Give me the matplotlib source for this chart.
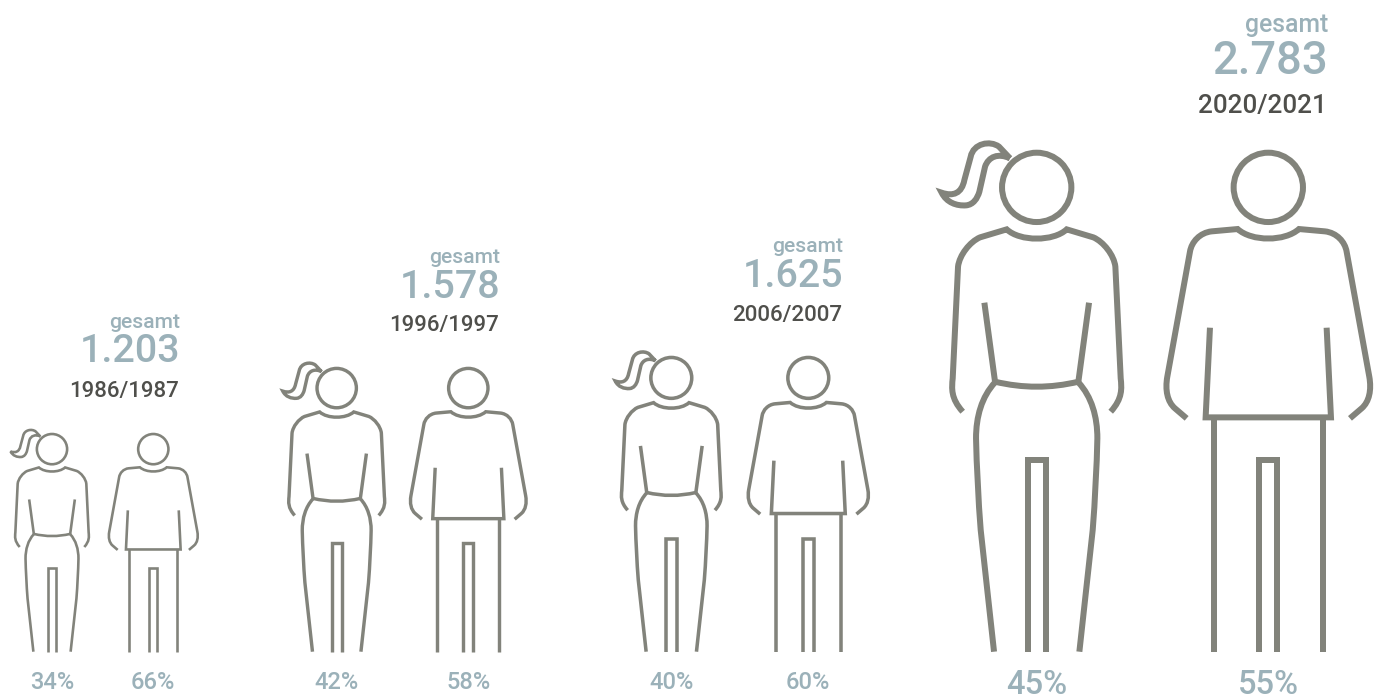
import matplotlib
matplotlib.use('Agg')
import matplotlib.pyplot as plt
from matplotlib.path import Path
from matplotlib.patches import PathPatch, Circle

years = ['1986/1987', '1996/1997', '2006/2007', '2020/2021']
totals = [1203, 1578, 1625, 2783]
total_labels = ['1.203', '1.578', '1.625', '2.783']
women = [34, 42, 40, 45]
men = [66, 58, 60, 55]
# height of the figures in pixels (follows totals)
figure_h = [219, 285, 296, 502]

# layout in pixels of the 1381x697 picture
female_x = [52, 336.7, 671.3, 1036.7]
male_x = [153.3, 468.3, 808.3, 1268.3]
text_right = [180, 500, 843, 1328]
gesamt_y = [328, 263, 252, 32]
number_y = [362.5, 298, 287, 74]
year_y = [396.5, 331.5, 320.5, 112.5]
small = [True, True, True, False]

grey = '#82837b'
blue = '#9bb1b9'
dark = '#4f4f4b'
base = 651.7

M, L, C3, C4 = Path.MOVETO, Path.LINETO, Path.CURVE3, Path.CURVE4

# icon outlines, drawn at 3x the largest figure, x from the figure axis, y from the top
def seg(*parts):
    verts, codes = [], []
    for code, pts in parts:
        for p in pts:
            verts.append(p)
            codes.append(code)
    return verts, codes

woman_paths = [
    seg((M, [(-222, 845)]), (C4, [(-258, 805), (-255, 775), (-252, 745)]), (L, [(-236, 410)]),
        (C4, [(-232, 375), (-200, 335), (-170, 322)]), (L, [(-90, 298)]),
        (C4, [(-50, 335), (50, 335), (90, 298)]), (L, [(170, 322)]),
        (C4, [(200, 335), (232, 375), (236, 410)]), (L, [(252, 745)]),
        (C4, [(255, 775), (258, 805), (222, 845)])),
    seg((M, [(-157, 518)]), (L, [(-125, 755)]), (C3, [(0, 785), (125, 755)]), (L, [(157, 518)])),
    seg((M, [(-125, 757)]), (C4, [(-165, 800), (-182, 860), (-182, 925)]),
        (C4, [(-180, 1010), (-175, 1110), (-168, 1200)]), (L, [(-128, 1565)])),
    seg((M, [(125, 757)]), (C4, [(165, 800), (182, 860), (182, 925)]),
        (C4, [(180, 1010), (175, 1110), (168, 1200)]), (L, [(128, 1565)])),
    seg((M, [(-27, 1565)]), (L, [(-27, 991), (27, 991), (27, 1565)])),
    # ponytail
    seg((M, [(-80, 85)]), (L, [(-113, 50)]), (C4, [(-140, 30), (-190, 40), (-198, 80)]), (L, [(-217, 150)]),
        (C4, [(-225, 190), (-250, 200), (-285, 188)]), (C4, [(-270, 218), (-240, 228), (-212, 226)]),
        (C4, [(-190, 224), (-178, 205), (-172, 185)]), (L, [(-155, 110)]),
        (C4, [(-145, 80), (-115, 68), (-80, 85)])),
]
man_paths = [
    seg((M, [(-245, 865)]), (L, [(-280, 835)]), (C4, [(-303, 815), (-310, 780), (-303, 740)]), (L, [(-235, 365)]),
        (C4, [(-230, 335), (-205, 308), (-170, 304)]), (L, [(-92, 297)]),
        (C4, [(-50, 335), (50, 335), (92, 297)]), (L, [(170, 304)]),
        (C4, [(205, 308), (230, 335), (235, 365)]), (L, [(303, 740)]),
        (C4, [(310, 780), (303, 815), (280, 835)]), (L, [(245, 865)])),
    seg((M, [(-175, 593)]), (L, [(-188, 862), (188, 862), (175, 593)])),
    seg((M, [(-164, 862)]), (L, [(-164, 1565)])),
    seg((M, [(164, 862)]), (L, [(164, 1565)])),
    seg((M, [(-27, 1565)]), (L, [(-27, 991), (27, 991), (27, 1565)])),
]

def draw_person(ax, paths, cx, s):
    lw = 6 * s * 0.72
    for verts, codes in paths:
        v = [(cx + x * s / 3, base - (1565 - y) * s / 3) for x, y in verts]
        ax.add_patch(PathPatch(Path(v, codes), fill=False, edgecolor=grey, lw=lw,
                               joinstyle='miter', capstyle='butt'))
    ax.add_patch(Circle((cx, base - (1565 - 172) * s / 3), 104 * s / 3, fill=False, edgecolor=grey, lw=lw))

plt.rcParams['font.family'] = ['Roboto', 'DejaVu Sans']
fig = plt.figure(figsize=(13.81, 6.97), dpi=100)
ax = fig.add_axes([0, 0, 1, 1])
ax.set_xlim(0, 1381)
ax.set_ylim(697, 0)
ax.axis('off')

for i in range(len(years)):
    s = figure_h[i] / figure_h[3]
    draw_person(ax, woman_paths, female_x[i], s)
    draw_person(ax, man_paths, male_x[i], s)
    k = 1.0 if small[i] else 1.17
    r = text_right[i]
    ax.text(r, gesamt_y[i], 'gesamt', color=blue, fontsize=15.2 * k, fontweight=500, ha='right', va='baseline')
    ax.text(r, number_y[i], total_labels[i], color=blue, fontsize=(28.4 if small[i] else 32.8), fontweight=500,
            ha='right', va='baseline')
    ax.text(r - 1, year_y[i], years[i], color=dark, fontsize=16 * k, fontweight=500, ha='right', va='baseline')
    py = 689 if small[i] else 694
    ps = 17 if small[i] else 23.5
    ax.text(female_x[i], py, '%d%%' % women[i], color=blue, fontsize=ps, fontweight=500, ha='center', va='baseline')
    ax.text(male_x[i], py, '%d%%' % men[i], color=blue, fontsize=ps, fontweight=500, ha='center', va='baseline')

fig.savefig('out.png', dpi=100)
